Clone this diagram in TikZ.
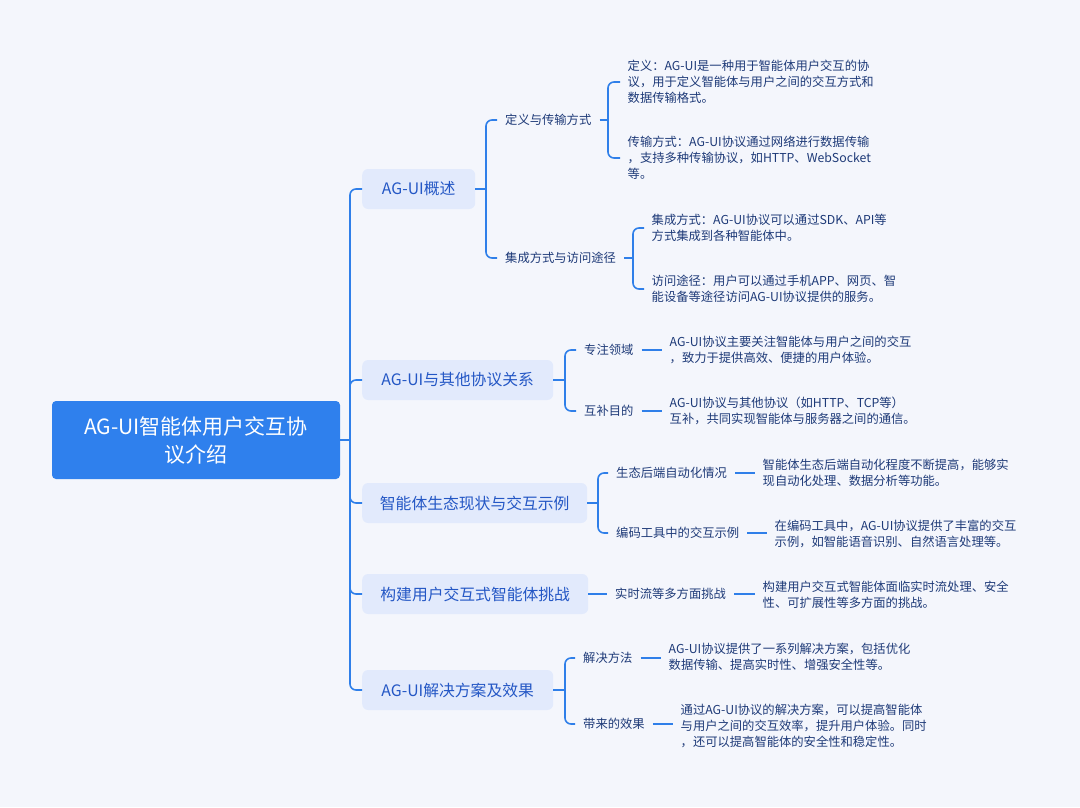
\documentclass[tikz,border=0pt]{standalone}
\usepackage{fontspec}
\setmainfont{Noto Sans CJK SC}
\definecolor{bgc}{HTML}{F4F6FC}
\definecolor{linec}{HTML}{2F7FE9}
\definecolor{rootc}{HTML}{2F80ED}
\definecolor{l1c}{HTML}{E2EAFC}
\definecolor{l1t}{HTML}{2457C5}
\definecolor{l2t}{HTML}{1E3A78}
\begin{document}
\begin{tikzpicture}[x=1pt,y=-1pt,
 conn/.style={draw=linec, line width=1.6pt, rounded corners=6pt},
 rootbox/.style={fill=rootc, rounded corners=4pt, text=white, font=\fontsize{21}{28}\selectfont, align=center, minimum width=288pt, minimum height=78pt, inner sep=0pt},
 l1box/.style={fill=l1c, rounded corners=6pt, text=l1t, font=\fontsize{15.8}{20}\selectfont, minimum height=40pt, inner sep=0pt, anchor=west},
 l2lab/.style={text=l2t, font=\fontsize{12.3}{16}\selectfont, inner xsep=8pt, inner ysep=0pt, anchor=west},
 leaf/.style={text=l2t, font=\fontsize{12.3}{16}\selectfont, align=left, inner xsep=7.5pt, inner ysep=0pt, anchor=west}]
\fill[bgc] (0,0) rectangle (1080,807);
\useasboundingbox (0,0) rectangle (1080,807);

% root
\node[rootbox] (root) at (196,440) {AG-UI智能体用户交互协\\议介绍};

% level 1
\node[l1box, minimum width=113pt] (b1) at (362,189) {AG-UI概述};
\node[l1box, minimum width=191pt] (b2) at (362,380) {AG-UI与其他协议关系};
\node[l1box, minimum width=225pt] (b3) at (362,503) {智能体生态现状与交互示例};
\node[l1box, minimum width=226pt] (b4) at (362,594) {构建用户交互式智能体挑战};
\node[l1box, minimum width=191pt] (b5) at (362,690) {AG-UI解决方案及效果};

\coordinate (t0) at (350,440);
\draw[conn] (root.east) -- (t0);
\foreach \b in {b1,b2,b3,b4,b5} { \draw[conn] (t0) |- (\b.west); }

% branch 1
\node[l2lab] (c11) at (497,120) {定义与传输方式};
\node[l2lab] (c12) at (497,258) {集成方式与访问途径};
\coordinate (j1) at (486,189);
\draw[conn] (b1.east) -- (j1);
\draw[conn] (j1) |- (c11.west);
\draw[conn] (j1) |- (c12.west);

\node[leaf] (d111) at (620,82) {定义：AG-UI是一种用于智能体用户交互的协\\议，用于定义智能体与用户之间的交互方式和\\数据传输格式。};
\node[leaf] (d112) at (620,158) {传输方式：AG-UI协议通过网络进行数据传输\\，支持多种传输协议，如HTTP、WebSocket\\等。};
\coordinate (j11) at (608,120);
\draw[conn] (c11.east) -- (j11);
\draw[conn] (j11) |- (d111.west);
\draw[conn] (j11) |- (d112.west);

\node[leaf] (d121) at (644,228) {集成方式：AG-UI协议可以通过SDK、API等\\方式集成到各种智能体中。};
\node[leaf] (d122) at (644,289) {访问途径：用户可以通过手机APP、网页、智\\能设备等途径访问AG-UI协议提供的服务。};
\coordinate (j12) at (633,258);
\draw[conn] (c12.east) -- (j12);
\draw[conn] (j12) |- (d121.west);
\draw[conn] (j12) |- (d122.west);

% branch 2
\node[l2lab] (c21) at (576,350) {专注领域};
\node[l2lab] (c22) at (576,411) {互补目的};
\coordinate (j2) at (565,380);
\draw[conn] (b2.east) -- (j2);
\draw[conn] (j2) |- (c21.west);
\draw[conn] (j2) |- (c22.west);
\node[leaf] (d21) at (662,350) {AG-UI协议主要关注智能体与用户之间的交互\\，致力于提供高效、便捷的用户体验。};
\node[leaf] (d22) at (662,411) {AG-UI协议与其他协议（如HTTP、TCP等）\\互补，共同实现智能体与服务器之间的通信。};
\draw[conn] (c21.east) -- (c21.east -| d21.west);
\draw[conn] (c22.east) -- (c22.east -| d22.west);

% branch 3
\node[l2lab] (c31) at (608,473) {生态后端自动化情况};
\node[l2lab] (c32) at (608,533) {编码工具中的交互示例};
\coordinate (j3) at (598,503);
\draw[conn] (b3.east) -- (j3);
\draw[conn] (j3) |- (c31.west);
\draw[conn] (j3) |- (c32.west);
\node[leaf] (d31) at (755,473) {智能体生态后端自动化程度不断提高，能够实\\现自动化处理、数据分析等功能。};
\node[leaf] (d32) at (767,534) {在编码工具中，AG-UI协议提供了丰富的交互\\示例，如智能语音识别、自然语言处理等。};
\draw[conn] (c31.east) -- (c31.east -| d31.west);
\draw[conn] (c32.east) -- (c32.east -| d32.west);

% branch 4
\node[l2lab] (c41) at (607,594) {实时流等多方面挑战};
\draw[conn] (b4.east) -- (c41.west);
\node[leaf] (d41) at (755,595) {构建用户交互式智能体面临实时流处理、安全\\性、可扩展性等多方面的挑战。};
\draw[conn] (c41.east) -- (c41.east -| d41.west);

% branch 5
\node[l2lab] (c51) at (575,658) {解决方法};
\node[l2lab] (c52) at (575,724) {带来的效果};
\coordinate (j5) at (565,690);
\draw[conn] (b5.east) -- (j5);
\draw[conn] (j5) |- (c51.west);
\draw[conn] (j5) |- (c52.west);
\node[leaf] (d51) at (661,657) {AG-UI协议提供了一系列解决方案，包括优化\\数据传输、提高实时性、增强安全性等。};
\node[leaf] (d52) at (673,726) {通过AG-UI协议的解决方案，可以提高智能体\\与用户之间的交互效率，提升用户体验。同时\\，还可以提高智能体的安全性和稳定性。};
\draw[conn] (c51.east) -- (c51.east -| d51.west);
\draw[conn] (c52.east) -- (c52.east -| d52.west);
\end{tikzpicture}
\end{document}
